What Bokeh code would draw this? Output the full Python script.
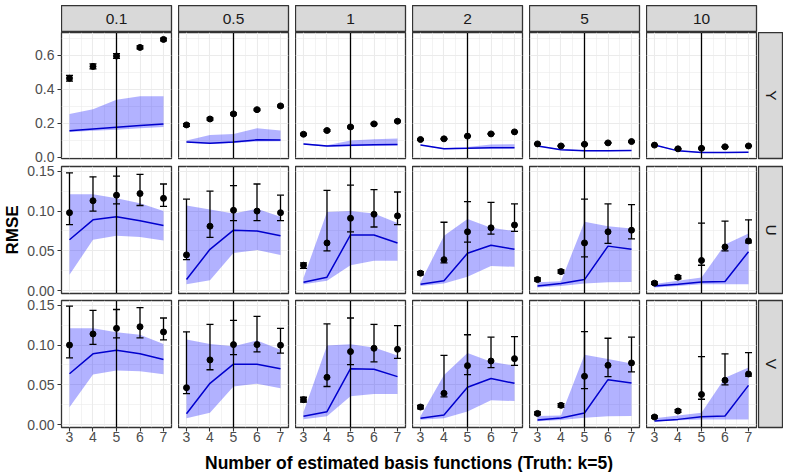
import math
from bokeh.plotting import figure
from bokeh.layouts import row, column, Spacer
from bokeh.models import Range1d, FixedTicker, PrintfTickFormatter, Span
from bokeh.embed import file_html
from bokeh.resources import INLINE
from bokeh.core.properties import value

# ---------------- data ----------------
n_basis = [3, 4, 5, 6, 7]
truth_k = 5
lambdas = ["0.1", "0.5", "1", "2", "5", "10"]
responses = ["Y", "U", "V"]
x_title = "Number of estimated basis functions (Truth: k=5)"
y_title = "RMSE"

y_ticks_Y = [0.0, 0.2, 0.4, 0.6]
y_minor_Y = [0.1, 0.3, 0.5, 0.7]
y_ticks_UV = [0.0, 0.05, 0.10, 0.15]
y_minor_UV = [0.025, 0.075, 0.125]
x_minor = [3.5, 4.5, 5.5, 6.5]

# Y row: one list per lambda column
Y_point = [[0.465, 0.535, 0.596, 0.647, 0.694],
           [0.190, 0.225, 0.255, 0.280, 0.302],
           [0.135, 0.157, 0.178, 0.196, 0.212],
           [0.104, 0.108, 0.124, 0.137, 0.149],
           [0.078, 0.066, 0.076, 0.084, 0.092],
           [0.071, 0.049, 0.052, 0.061, 0.066]]
Y_err_lo = [[0.448, 0.520, 0.582, 0.638, 0.686],
            [0.182, 0.218, 0.249, 0.275, 0.297],
            [0.130, 0.152, 0.173, 0.192, 0.208],
            [0.101, 0.105, 0.121, 0.134, 0.146],
            [0.075, 0.063, 0.073, 0.081, 0.089],
            [0.068, 0.046, 0.049, 0.058, 0.063]]
Y_err_hi = [[0.482, 0.550, 0.610, 0.656, 0.702],
            [0.198, 0.232, 0.261, 0.285, 0.307],
            [0.140, 0.162, 0.183, 0.200, 0.216],
            [0.107, 0.111, 0.127, 0.140, 0.152],
            [0.081, 0.069, 0.079, 0.087, 0.095],
            [0.074, 0.052, 0.055, 0.064, 0.069]]
Y_line = [[0.155, 0.166, 0.176, 0.186, 0.196],
          [0.090, 0.082, 0.090, 0.102, 0.101],
          [0.078, 0.065, 0.070, 0.073, 0.074],
          [0.072, 0.050, 0.052, 0.055, 0.056],
          [0.066, 0.044, 0.037, 0.037, 0.039],
          [0.071, 0.037, 0.027, 0.027, 0.029]]
Y_band_lo = [[0.148, 0.155, 0.162, 0.170, 0.178],
             [0.086, 0.078, 0.083, 0.092, 0.094],
             [0.075, 0.062, 0.064, 0.067, 0.068],
             [0.070, 0.047, 0.049, 0.051, 0.052],
             [0.064, 0.042, 0.035, 0.035, 0.037],
             [0.069, 0.035, 0.025, 0.025, 0.027]]
Y_band_hi = [[0.255, 0.282, 0.339, 0.359, 0.359],
             [0.098, 0.131, 0.137, 0.171, 0.157],
             [0.082, 0.070, 0.098, 0.105, 0.110],
             [0.075, 0.053, 0.060, 0.074, 0.076],
             [0.069, 0.047, 0.040, 0.040, 0.042],
             [0.073, 0.040, 0.030, 0.030, 0.032]]

# U row
U_point = [[0.098, 0.113, 0.120, 0.122, 0.116],
           [0.045, 0.081, 0.101, 0.100, 0.098],
           [0.032, 0.060, 0.091, 0.096, 0.094],
           [0.022, 0.039, 0.074, 0.079, 0.0825],
           [0.014, 0.024, 0.060, 0.074, 0.076],
           [0.0095, 0.017, 0.038, 0.055, 0.0625]]
U_err_lo = [[0.083, 0.100, 0.109, 0.107, 0.106],
            [0.039, 0.067, 0.088, 0.088, 0.088],
            [0.028, 0.050, 0.074, 0.080, 0.083],
            [0.020, 0.035, 0.061, 0.071, 0.0745],
            [0.012, 0.022, 0.0425, 0.0595, 0.065],
            [0.008, 0.015, 0.032, 0.050, 0.060]]
U_err_hi = [[0.148, 0.143, 0.144, 0.146, 0.134],
            [0.115, 0.125, 0.132, 0.134, 0.120],
            [0.035, 0.126, 0.1325, 0.127, 0.124],
            [0.024, 0.086, 0.112, 0.111, 0.109],
            [0.016, 0.026, 0.115, 0.109, 0.108],
            [0.011, 0.019, 0.085, 0.0875, 0.089]]
U_line = [[0.064, 0.089, 0.093, 0.088, 0.082],
          [0.014, 0.052, 0.076, 0.075, 0.069],
          [0.0105, 0.017, 0.070, 0.070, 0.060],
          [0.008, 0.0125, 0.047, 0.057, 0.052],
          [0.006, 0.009, 0.014, 0.056, 0.052],
          [0.006, 0.008, 0.011, 0.0115, 0.049]]
U_band_lo = [[0.020, 0.064, 0.069, 0.0675, 0.063],
             [0.008, 0.013, 0.0475, 0.051, 0.045],
             [0.008, 0.0125, 0.032, 0.0375, 0.0375],
             [0.006, 0.009, 0.0175, 0.031, 0.030],
             [0.004, 0.006, 0.009, 0.0105, 0.011],
             [0.004, 0.006, 0.008, 0.008, 0.008]]
U_band_hi = [[0.121, 0.121, 0.116, 0.110, 0.100],
             [0.107, 0.102, 0.097, 0.103, 0.093],
             [0.016, 0.099, 0.100, 0.097, 0.085],
             [0.0105, 0.069, 0.090, 0.079, 0.075],
             [0.0105, 0.012, 0.0865, 0.081, 0.078],
             [0.0085, 0.0125, 0.0165, 0.058, 0.072]]

# V row
V_point = [[0.100, 0.114, 0.121, 0.123, 0.1165],
           [0.0465, 0.0814, 0.1006, 0.1006, 0.0998],
           [0.0315, 0.0595, 0.0918, 0.096, 0.0947],
           [0.0222, 0.0394, 0.0742, 0.080, 0.083],
           [0.0142, 0.0243, 0.0608, 0.0746, 0.0776],
           [0.0097, 0.0172, 0.038, 0.0558, 0.0637]]
V_err_lo = [[0.084, 0.101, 0.109, 0.109, 0.1065],
            [0.039, 0.069, 0.088, 0.0914, 0.090],
            [0.0285, 0.048, 0.0755, 0.079, 0.0834],
            [0.020, 0.035, 0.063, 0.0717, 0.0746],
            [0.0125, 0.022, 0.0453, 0.0604, 0.0663],
            [0.0082, 0.0155, 0.032, 0.050, 0.061]]
V_err_hi = [[0.149, 0.1435, 0.1447, 0.147, 0.134],
            [0.1166, 0.126, 0.131, 0.136, 0.121],
            [0.0345, 0.1266, 0.134, 0.126, 0.1245],
            [0.0244, 0.087, 0.113, 0.110, 0.1107],
            [0.016, 0.0265, 0.117, 0.1086, 0.110],
            [0.0112, 0.019, 0.0855, 0.089, 0.0905]]
V_line = [[0.064, 0.089, 0.0935, 0.089, 0.082],
          [0.0138, 0.052, 0.076, 0.076, 0.0704],
          [0.0105, 0.0164, 0.0704, 0.0696, 0.0604],
          [0.008, 0.0122, 0.047, 0.058, 0.052],
          [0.006, 0.0084, 0.0147, 0.0566, 0.0524],
          [0.0046, 0.0067, 0.010, 0.011, 0.0494]]
V_band_lo = [[0.022, 0.063, 0.068, 0.067, 0.0633],
             [0.008, 0.015, 0.048, 0.0516, 0.0457],
             [0.007, 0.0105, 0.0356, 0.0386, 0.0386],
             [0.0063, 0.008, 0.0167, 0.0306, 0.0297],
             [0.0045, 0.006, 0.0088, 0.0105, 0.011],
             [0.004, 0.0055, 0.0067, 0.0067, 0.0067]]
V_band_hi = [[0.121, 0.121, 0.116, 0.113, 0.1015],
             [0.107, 0.1015, 0.0985, 0.1057, 0.094],
             [0.016, 0.0994, 0.101, 0.097, 0.087],
             [0.0105, 0.0625, 0.090, 0.079, 0.0742],
             [0.011, 0.0115, 0.088, 0.0826, 0.077],
             [0.008, 0.0115, 0.015, 0.059, 0.072]]

# ---------------- styling ----------------
FONT = "Liberation Sans"
BORDER = "#333333"
GRID = "#EBEBEB"
STRIP_BG = "#D9D9D9"
TICK_TXT = "#4D4D4D"

series = {
    "Y": (Y_point, Y_err_lo, Y_err_hi, Y_line, Y_band_lo, Y_band_hi),
    "U": (U_point, U_err_lo, U_err_hi, U_line, U_band_lo, U_band_hi),
    "V": (V_point, V_err_lo, V_err_hi, V_line, V_band_lo, V_band_hi),
}
y_ranges = {"Y": (-0.008, 0.735), "U": (-0.0035, 0.156), "V": (-0.0035, 0.156)}
x_range = (2.66, 7.34)
cap = 0.15

top_gap = 5
frame_w = 110
frame_h = [126, 127, 127]
row_gap = [0, 8, 7]          # visible gap above each row of panels
pad_top = [0, 9, 9]          # transparent room above each row (for tick labels)
pad_bot = [9, 9, 19]         # transparent room below each row
left_label_w = 24
left_axis_w = 37
gap_right = [7, 7, 7, 7, 7, 2]
strip_w = 25
strip_h = 27
title_h = 26


def base_fig(w, h, xr, yr, **kw):
    p = figure(width=w, height=h, x_range=Range1d(*xr), y_range=Range1d(*yr),
               output_backend="svg", toolbar_location=None, title=None,
               min_border=0, min_border_left=0, min_border_right=0,
               min_border_top=0, min_border_bottom=0, **kw)
    p.border_fill_color = None
    return p


def panel(r, c):
    resp = responses[r]
    first = c == 0
    bottom = r == 2
    w = frame_w + (left_axis_w if first else 0) + gap_right[c]
    h = pad_top[r] + frame_h[r] + pad_bot[r]
    p = base_fig(w, h, x_range, y_ranges[resp],
                 x_axis_location="below" if bottom else None,
                 y_axis_location="left" if first else None)
    p.min_border_left = left_axis_w if first else 0
    p.min_border_right = gap_right[c]
    p.min_border_top = pad_top[r]
    p.min_border_bottom = pad_bot[r]
    p.outline_line_color = BORDER
    p.outline_line_width = 1.3
    p.background_fill_color = "white"

    yt = y_ticks_Y if resp == "Y" else y_ticks_UV
    ym = y_minor_Y if resp == "Y" else y_minor_UV
    xtick = FixedTicker(ticks=n_basis, minor_ticks=x_minor)
    ytick = FixedTicker(ticks=yt, minor_ticks=ym)
    p.xgrid.ticker = xtick
    p.ygrid.ticker = ytick
    for g in (p.xgrid, p.ygrid):
        g.grid_line_color = GRID
        g.grid_line_width = 1.1
        g.minor_grid_line_color = GRID
        g.minor_grid_line_width = 0.6

    if bottom:
        ax = p.xaxis[0]
        ax.ticker = xtick
        ax.major_label_standoff = 0
    if first:
        ax = p.yaxis[0]
        ax.ticker = ytick
        ax.formatter = PrintfTickFormatter(format="%.1f" if resp == "Y" else "%.2f")
        ax.major_label_standoff = 3
    for ax in list(p.xaxis) + list(p.yaxis):
        ax.axis_line_color = None
        ax.major_tick_line_color = BORDER
        ax.major_tick_line_width = 1.1
        ax.major_tick_in = 0
        ax.major_tick_out = 4
        ax.minor_tick_line_color = None
        ax.major_label_text_font = FONT
        ax.major_label_text_font_size = "14px"
        ax.major_label_text_color = TICK_TXT

    pt, elo, ehi, ln, blo, bhi = (s[c] for s in series[resp])
    p.varea(x=n_basis, y1=blo, y2=bhi, fill_color="#0000FF", fill_alpha=0.3)
    p.line(n_basis, ln, line_color="#0000CD", line_width=1.5)
    p.add_layout(Span(location=truth_k, dimension="height",
                      line_color="black", line_width=1.3))
    p.segment(x0=n_basis, y0=elo, x1=n_basis, y1=ehi, line_color="black", line_width=1.3)
    xl = [x - cap for x in n_basis]
    xr = [x + cap for x in n_basis]
    p.segment(x0=xl, y0=elo, x1=xr, y1=elo, line_color="black", line_width=1.3)
    p.segment(x0=xl, y0=ehi, x1=xr, y1=ehi, line_color="black", line_width=1.3)
    p.scatter(n_basis, pt, size=6, fill_color="black", line_color="black")
    return p


def strip(label, w, h, angle, right_gap=0, top_pad=0, bottom_pad=0):
    p = base_fig(w, h, (0, 1), (0, 1), x_axis_location=None, y_axis_location=None)
    p.min_border_right = right_gap
    p.min_border_top = top_pad
    p.min_border_bottom = bottom_pad
    p.grid.visible = False
    p.background_fill_color = STRIP_BG
    p.outline_line_color = BORDER
    p.outline_line_width = 1.3
    p.text(x=[0.5], y=[0.5], text=[label], angle=angle,
           text_align="center", text_baseline="middle",
           text_font=value(FONT), text_font_size="15.5px", text_color="#1A1A1A")
    return p


total_w = left_label_w + left_axis_w + sum(frame_w + g for g in gap_right) + strip_w

rows = [Spacer(width=total_w, height=top_gap)]

# top strips
top = [Spacer(width=left_label_w + left_axis_w, height=strip_h)]
for c, lam in enumerate(lambdas):
    top.append(strip(lam, frame_w + gap_right[c], strip_h, 0, right_gap=gap_right[c]))
top.append(Spacer(width=strip_w, height=strip_h))
rows.append(row(*top))

for r, resp in enumerate(responses):
    h = pad_top[r] + frame_h[r] + pad_bot[r]
    if r == 1:
        lp = base_fig(left_label_w, h, (0, left_label_w), (0, h),
                      x_axis_location=None, y_axis_location=None)
        lp.grid.visible = False
        lp.outline_line_color = None
        lp.text(x=[12.3], y=[pad_bot[r] + frame_h[r] / 2],
                text=[y_title], angle=math.pi / 2, text_align="center",
                text_baseline="middle", text_font=value(FONT),
                text_font_size="17px", text_font_style="bold", text_color="black")
    else:
        lp = Spacer(width=left_label_w, height=h)
    items = [lp] + [panel(r, c) for c in range(6)]
    items.append(strip(resp, strip_w, h, -math.pi / 2,
                       top_pad=pad_top[r], bottom_pad=pad_bot[r]))
    overlap = 0 if r == 0 else pad_bot[r - 1] + pad_top[r] - row_gap[r]
    rows.append(row(*items, margin=(-overlap, 0, 0, 0)))

tf = base_fig(total_w, title_h, (0, total_w), (0, title_h),
              x_axis_location=None, y_axis_location=None)
tf.grid.visible = False
tf.outline_line_color = None
panel_left = left_label_w + left_axis_w
panel_center = panel_left + (6 * frame_w + sum(gap_right[:5])) / 2
tf.text(x=[panel_center], y=[9.3], text=[x_title], text_align="center",
        text_baseline="alphabetic", text_font=value(FONT), text_font_size="17.5px",
        text_font_style="bold", text_color="black")
rows.append(tf)

layout = column(*rows)
open("out.html", "w").write(file_html(layout, INLINE))
